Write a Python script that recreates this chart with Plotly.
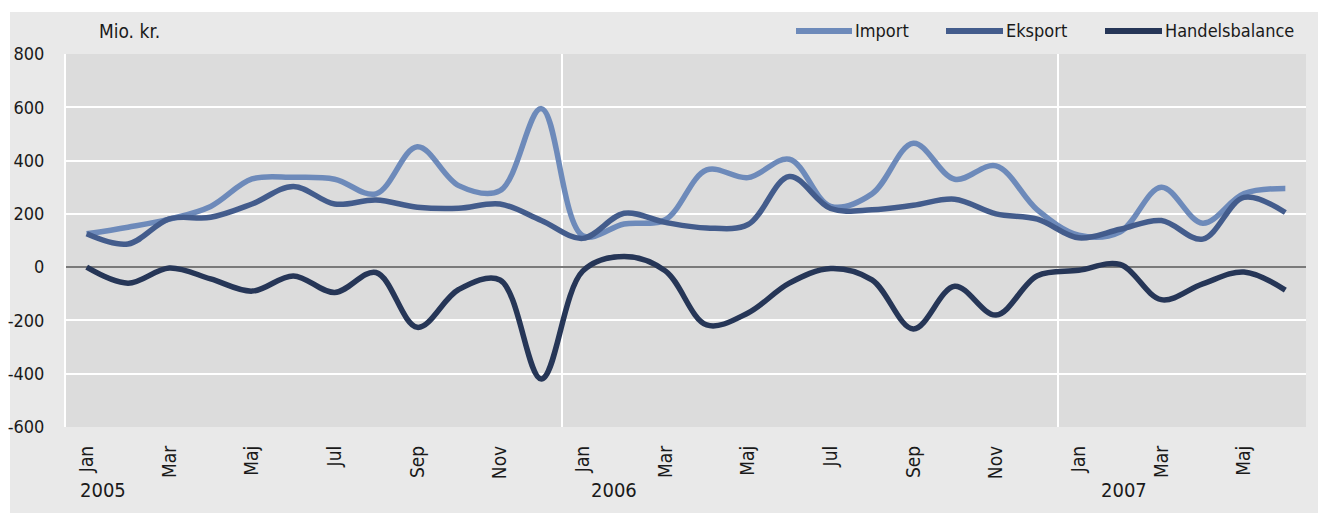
import plotly.graph_objects as go

months = ["Jan", "Feb", "Mar", "Apr", "Maj", "Jun", "Jul", "Aug", "Sep", "Okt", "Nov", "Dec",
          "Jan", "Feb", "Mar", "Apr", "Maj", "Jun", "Jul", "Aug", "Sep", "Okt", "Nov", "Dec",
          "Jan", "Feb", "Mar", "Apr", "Maj", "Jun"]
years = ["2005", "2006", "2007"]

import_vals = [125, 150, 180, 228, 331, 337, 330, 275, 452, 306, 287, 595,
               118, 162, 178, 365, 336, 405, 228, 275, 465, 330, 380, 215,
               120, 132, 300, 165, 276, 295]
eksport_vals = [125, 87, 181, 187, 237, 303, 237, 252, 225, 221, 237, 175,
                108, 202, 168, 147, 160, 340, 220, 215, 232, 255, 200, 180,
                110, 142, 175, 105, 262, 205]
balance_vals = [0, -60, -3, -44, -90, -33, -95, -20, -226, -84, -48, -420,
                -15, 40, -14, -217, -172, -60, -5, -48, -232, -72, -180, -32,
                -12, 10, -122, -63, -18, -86]

series_names = ["Import", "Eksport", "Handelsbalance"]
series_colors = ["#6d8aba", "#435c8c", "#263657"]

y_ticks = [-600, -400, -200, 0, 200, 400, 600, 800]
y_tick_text = [str(v) for v in y_ticks]  # plain hyphen for negatives, as in reference

x = list(range(len(months)))
tick_idx = [i for i in x if i % 2 == 0]
tick_txt = [months[i] for i in tick_idx]

FONT = "Liberation Sans Narrow, DejaVu Sans Condensed, Arial Narrow, sans-serif"
TXT = "#1a1a1a"

fig = go.Figure()
for name, vals, col in zip(series_names, [import_vals, eksport_vals, balance_vals], series_colors):
    fig.add_trace(go.Scatter(x=x, y=vals, name=name, mode="lines", showlegend=False,
                             line=dict(color=col, width=5.5, shape="spline", smoothing=1.0)))

# page offset from the default 8px body margin
OFF = 8
W, H = 1326 - OFF, 513 - OFF
# plot area in page pixels: x 66..1306, y 54..427
L, R = 66 - OFF, W - (1306 - OFF)
T, B = 54 - OFF, H - (427 - OFF)
pw, ph = W - L - R, H - T - B

def px_x(p):  # page pixel -> paper
    return (p - OFF - L) / pw

def px_y(p):
    return (H - B - (p - OFF)) / ph

shapes = [
    dict(type="rect", xref="paper", yref="paper", x0=-1, x1=px_x(10), y0=-1, y1=2,
         fillcolor="white", line=dict(width=0), layer="below"),
    dict(type="rect", xref="paper", yref="paper", x0=-1, x1=2, y0=px_y(12), y1=2,
         fillcolor="white", line=dict(width=0), layer="below"),
]
for b in (11.5, 23.5):
    shapes.append(dict(type="line", xref="x", yref="paper", x0=b, x1=b, y0=0, y1=1,
                       line=dict(color="white", width=2), layer="below"))

annotations = [
    dict(text="Mio. kr.", xref="paper", yref="paper", x=px_x(97), y=px_y(31),
         xanchor="left", yanchor="middle", showarrow=False,
         font=dict(family=FONT, size=19, color=TXT)),
]
year_pos = [0.39, 12.77, 25.09]
for yr, xp in zip(years, year_pos):
    annotations.append(dict(text=yr, xref="x", yref="paper", x=xp, y=px_y(490),
                            xanchor="center", yanchor="middle", showarrow=False,
                            font=dict(family=FONT, size=20, color=TXT)))

# manual legend (long line samples as in reference)
leg_x = [(796, 852), (946, 1003), (1105, 1162)]
for name, col, (a, b) in zip(series_names, series_colors, leg_x):
    shapes.append(dict(type="line", xref="paper", yref="paper", x0=px_x(a), x1=px_x(b),
                       y0=px_y(31), y1=px_y(31), line=dict(color=col, width=6)))
    annotations.append(dict(text=name, xref="paper", yref="paper", x=px_x(b + 1), y=px_y(31),
                            xanchor="left", yanchor="middle", showarrow=False,
                            font=dict(family=FONT, size=18, color=TXT)))

fig.update_layout(
    template="none",
    width=W, height=H,
    margin=dict(l=L, r=R, t=T, b=B, autoexpand=False),
    paper_bgcolor="#e9e9e9",
    plot_bgcolor="#dcdcdc",
    font=dict(family=FONT, size=16, color=TXT),
    showlegend=False,
    xaxis=dict(range=[-0.5, len(months) - 0.5], tickvals=tick_idx, ticktext=tick_txt,
               tickangle=-90, showgrid=False, zeroline=False, showline=False, automargin=False,
               ticks="", ticklabelstandoff=14, tickfont=dict(family=FONT, size=19, color=TXT)),
    yaxis=dict(range=[-600, 800], tickvals=y_ticks, ticktext=y_tick_text,
               showgrid=True, gridcolor="white", gridwidth=2,
               zeroline=True, zerolinecolor="#7a7a7a", zerolinewidth=1.5, automargin=False,
               showline=True, linecolor="white", linewidth=2,
               ticks="", ticklabelstandoff=16, tickfont=dict(family=FONT, size=18, color=TXT)),
    shapes=shapes,
    annotations=annotations,
)

fig.write_html("out.html")
